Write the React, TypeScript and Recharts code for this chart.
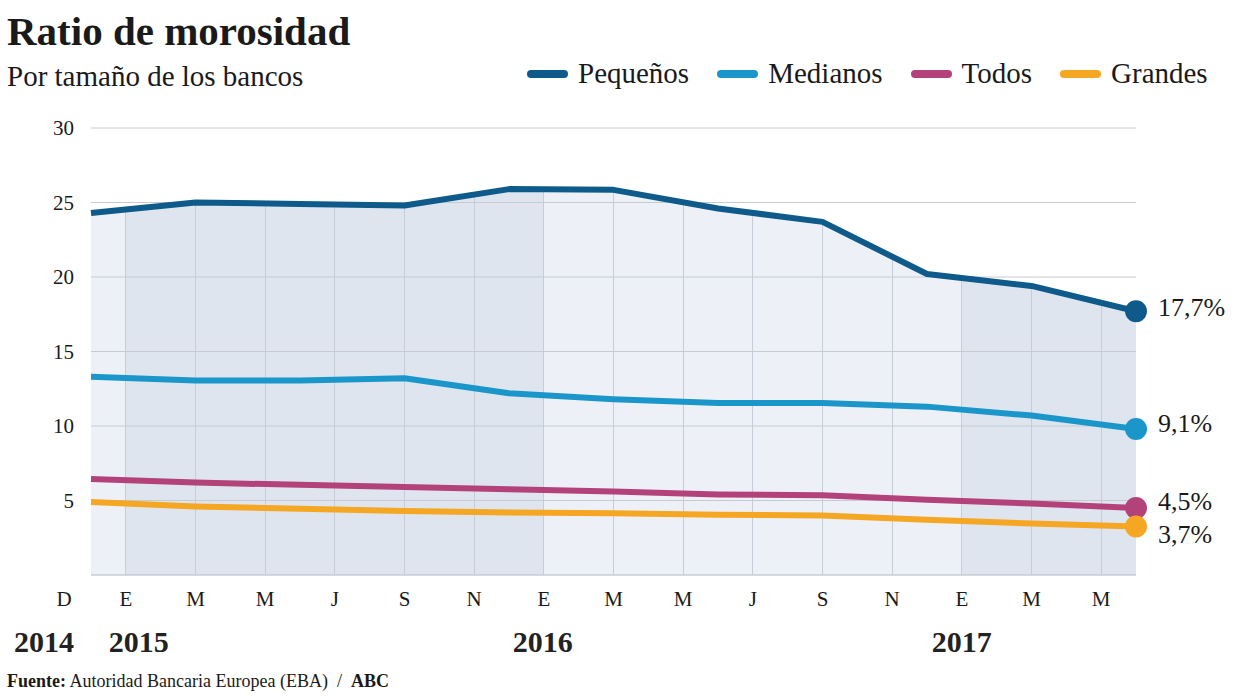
import React from "react";
import {
  ComposedChart,
  Area,
  Line,
  XAxis,
  YAxis,
  CartesianGrid,
  LabelList,
} from "recharts";

// quarterly observations, month 0 = December 2014
const periods = [
  "dic 2014", "mar 2015", "jun 2015", "sep 2015", "dic 2015", "mar 2016",
  "jun 2016", "sep 2016", "dic 2016", "mar 2017", "jun 2017",
];
const monthIndex = [0, 3, 6, 9, 12, 15, 18, 21, 24, 27, 30];

const pequenos = [24.3, 25.0, 24.9, 24.8, 25.9, 25.85, 24.6, 23.7, 20.2, 19.4, 17.7];
const medianos = [13.3, 13.05, 13.05, 13.2, 12.2, 11.8, 11.55, 11.55, 11.3, 10.7, 9.8];
const todos = [6.45, 6.2, 6.05, 5.9, 5.75, 5.6, 5.4, 5.35, 5.05, 4.8, 4.5];
const grandes = [4.9, 4.6, 4.45, 4.3, 4.2, 4.15, 4.05, 4.0, 3.7, 3.45, 3.25];

const seriesKeys = ["pequenos", "medianos", "todos", "grandes"];
const seriesNames = ["Pequeños", "Medianos", "Todos", "Grandes"];
const seriesColors = ["#0e5a8a", "#1b96ca", "#b4427a", "#f5a623"];
const endLabels = ["17,7%", "9,1%", "4,5%", "3,7%"];

const monthTicks = [0, 1, 3, 5, 7, 9, 11, 13, 15, 17, 19, 21, 23, 25, 27, 29];
const monthLabels = ["D", "E", "M", "M", "J", "S", "N", "E", "M", "M", "J", "S", "N", "E", "M", "M"];
const yearTicks = [0, 1, 13, 25];
const yearLabels = ["2014", "2015", "2016", "2017"];
const yTicks = [5, 10, 15, 20, 25, 30];

const data = periods.map((p, i) => ({
  periodo: p,
  m: monthIndex[i],
  pequenos: pequenos[i],
  medianos: medianos[i],
  todos: todos[i],
  grandes: grandes[i],
}));

const FONT = "'Liberation Serif', 'Times New Roman', serif";
const INK = "#1a1a1a";
const LIGHT = "#edf1f7";
const DARK = "#dee5ef";
const VGRID = "#c6cdd8";
const PLOT_W = 1045;
const LAST_M = 30;

// horizontal gradient: year bands + thin vertical grid stripes
function buildStops() {
  const bandColor = (m: number) => (m < 1 ? LIGHT : m < 13 ? DARK : m < 25 ? LIGHT : DARK);
  const hw = 0.5 / PLOT_W;
  const stops: { o: number; c: string }[] = [];
  monthTicks.forEach((t, k) => {
    const next = k < monthTicks.length - 1 ? monthTicks[k + 1] : LAST_M;
    const a = t / LAST_M;
    const b = next / LAST_M;
    const seg = bandColor((t + next) / 2);
    stops.push({ o: Math.max(0, a - hw), c: VGRID });
    stops.push({ o: a + hw, c: VGRID });
    stops.push({ o: a + hw, c: seg });
    stops.push({ o: next === LAST_M ? 1 : b - hw, c: seg });
  });
  return stops;
}
const stops = buildStops();

const MonthTick = (props: any) => {
  const { x, y, payload } = props;
  const i = monthTicks.indexOf(payload.value);
  const dx = i === 0 ? -27 : 0;
  return (
    <text x={x + dx} y={y + 31} textAnchor="middle" fontSize={21} fill={INK} fontFamily={FONT}>
      {monthLabels[i]}
    </text>
  );
};

const yearShift = [-47, 13, -1, 0];
const YearTick = (props: any) => {
  const { x, y, payload } = props;
  const i = yearTicks.indexOf(payload.value);
  return (
    <text
      x={x + yearShift[i]}
      y={y + 37}
      textAnchor="middle"
      fontSize={30}
      fontWeight={700}
      fill="#222"
      fontFamily={FONT}
    >
      {yearLabels[i]}
    </text>
  );
};

const endDot = (color: string) => (props: any) => {
  const { cx, cy, index } = props;
  if (index !== data.length - 1) return <g key={`d-${index}`} />;
  return <circle key={`d-${index}`} cx={cx} cy={cy} r={11} fill={color} />;
};

const labelDy = [-4, -5, -6, 8];
const endLabel = (s: number) => (props: any) => {
  const { x, y, index } = props;
  if (index !== data.length - 1) return null;
  return (
    <text
      x={x + 22}
      y={y + labelDy[s]}
      dominantBaseline="central"
      fontSize={26}
      fill={INK}
      fontFamily={FONT}
    >
      {endLabels[s]}
    </text>
  );
};

export default function App() {
  return (
    <div
      style={{
        position: "absolute",
        left: 0,
        top: 0,
        width: 1240,
        height: 698,
        background: "#fff",
        fontFamily: FONT,
        color: INK,
        overflow: "hidden",
      }}
    >
      <div style={{ position: "absolute", left: 7, top: 11, fontSize: 41, lineHeight: 1, fontWeight: 700 }}>
        Ratio de morosidad
      </div>
      <div style={{ position: "absolute", left: 7, top: 62, fontSize: 29, lineHeight: 1 }}>
        Por tamaño de los bancos
      </div>

      <div
        style={{
          position: "absolute",
          left: 527,
          top: 59,
          display: "flex",
          alignItems: "center",
          fontSize: 29,
          lineHeight: 1,
        }}
      >
        {seriesNames.map((n, i) => (
          <div key={n} style={{ display: "flex", alignItems: "center", marginRight: 28 }}>
            <span
              style={{
                display: "inline-block",
                width: 41,
                height: 8,
                borderRadius: 4,
                background: seriesColors[i],
                marginRight: 10,
              }}
            />
            <span>{n}</span>
          </div>
        ))}
      </div>

      <ComposedChart
        width={1240}
        height={698}
        data={data}
        margin={{ top: 128, right: 104, bottom: 43, left: 0 }}
      >
        <defs>
          <linearGradient id="bands" x1="0" y1="0" x2="1" y2="0">
            {stops.map((s, i) => (
              <stop key={i} offset={s.o} stopColor={s.c} />
            ))}
          </linearGradient>
        </defs>
        <XAxis
          dataKey="m"
          type="number"
          domain={[0, LAST_M]}
          ticks={monthTicks}
          interval={0}
          tick={<MonthTick />}
          tickLine={false}
          tickSize={0}
          tickMargin={0}
          axisLine={{ stroke: "#c5ccd6" }}
          height={40}
        />
        <XAxis
          xAxisId="years"
          dataKey="m"
          type="number"
          domain={[0, LAST_M]}
          ticks={yearTicks}
          interval={0}
          tick={<YearTick />}
          tickLine={false}
          tickSize={0}
          tickMargin={0}
          axisLine={false}
          height={40}
        />
        <YAxis
          type="number"
          domain={[0, 30]}
          ticks={yTicks}
          interval={0}
          axisLine={false}
          tickLine={false}
          tickSize={0}
          tickMargin={17}
          width={91}
          tick={{ fontSize: 21, fill: INK, fontFamily: FONT }}
        />
        <Area
          dataKey="pequenos"
          type="linear"
          stroke="none"
          fill="url(#bands)"
          fillOpacity={1}
          isAnimationActive={false}
          activeDot={false}
        />
        <CartesianGrid vertical={false} stroke="#c6cbd2" zIndex={200} />
        {seriesKeys.map((k, s) => (
          <Line
            key={k}
            dataKey={k}
            name={seriesNames[s]}
            type="linear"
            stroke={seriesColors[s]}
            strokeWidth={6}
            strokeLinejoin="round"
            dot={endDot(seriesColors[s])}
            activeDot={false}
            isAnimationActive={false}
          >
            <LabelList dataKey={k} content={endLabel(s)} />
          </Line>
        ))}
      </ComposedChart>

      <div style={{ position: "absolute", left: 7, top: 672, fontSize: 18, lineHeight: 1 }}>
        <b>Fuente:</b> Autoridad Bancaria Europea (EBA) &nbsp;/&nbsp; <b>ABC</b>
      </div>
    </div>
  );
}
